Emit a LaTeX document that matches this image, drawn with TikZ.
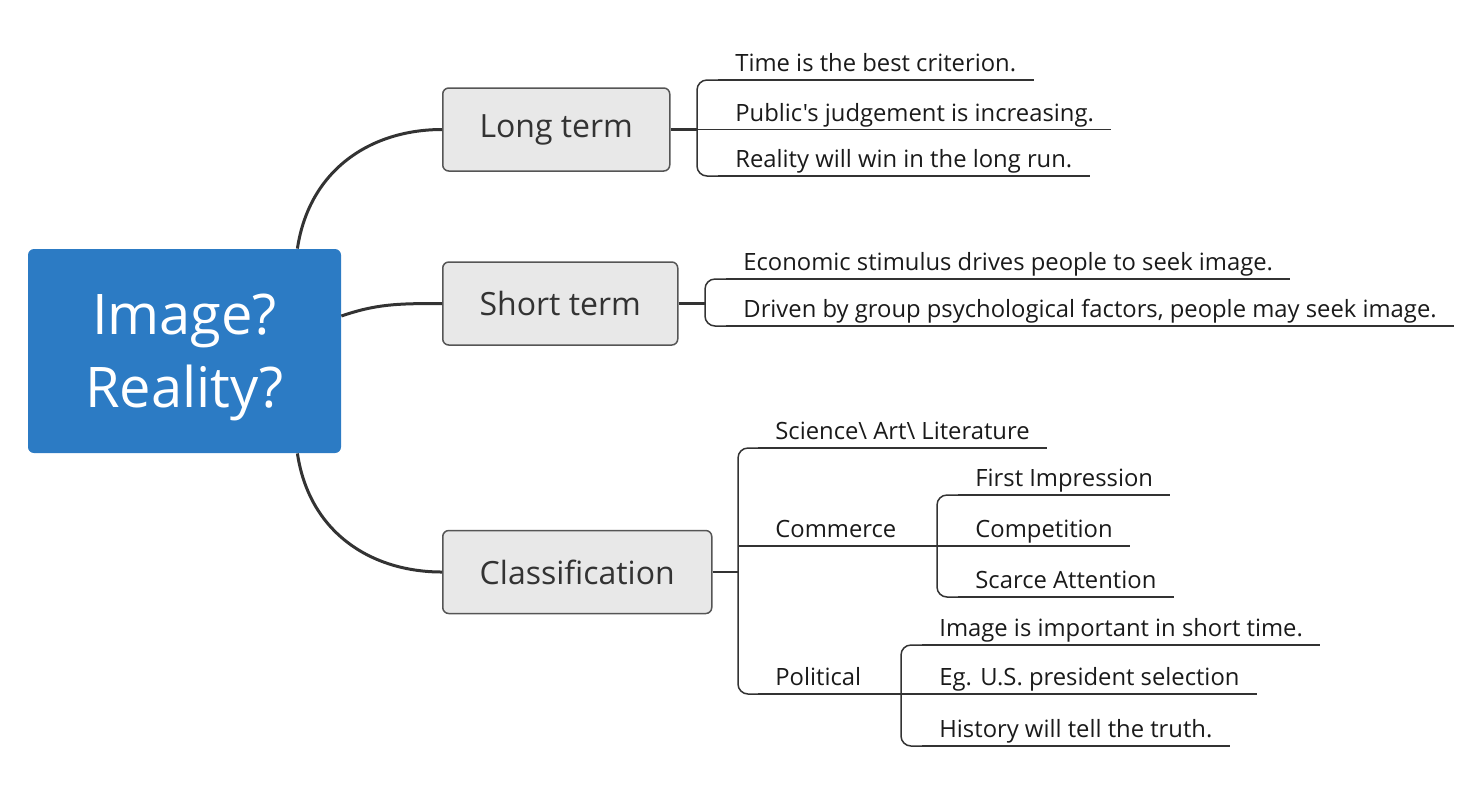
\documentclass[tikz,border=0pt]{standalone}
\usepackage{fontspec}
\setmainfont{Open Sans}[Ligatures=TeXOff]
\usetikzlibrary{calc}
\definecolor{cblue}{HTML}{2C7BC4}
\definecolor{cline}{HTML}{333333}
\definecolor{cfill}{HTML}{E8E8E8}
\definecolor{cborder}{HTML}{555555}
\definecolor{ctext}{HTML}{1A1A1A}
\begin{document}
\begin{tikzpicture}[x=0.5pt,y=-0.5pt,
  central/.style={fill=cblue, rounded corners=3pt, minimum width=156.5pt, minimum height=102pt, text=white, font=\fontsize{28}{36.5}\selectfont, align=center, inner sep=0pt, text depth=0pt},
  topic/.style={draw=cborder, line width=0.75pt, fill=cfill, rounded corners=3pt, minimum height=41.5pt, anchor=west, font=\fontsize{16}{19}\selectfont, text=cline, inner sep=0pt},
  leaf/.style={anchor=south west, inner xsep=8.5pt, inner ysep=3.9pt, text depth=0pt, font=\fontsize{11.9}{14}\selectfont, text=ctext},
  mainlink/.style={draw=cline, line width=1.5pt},
  trunk/.style={draw=cline, line width=1.2pt},
  twig/.style={draw=cline, line width=0.75pt, rounded corners=5pt},
]
\useasboundingbox (0,0) rectangle (1482,800);

% central topic
\node[central] (c) at (184.5,351) {Image?\\Reality?};
\coordinate (cTop) at ([xshift=-22pt]c.north east);
\coordinate (cBot) at ([xshift=-22pt]c.south east);
\coordinate (cMid) at ([yshift=17.5pt]c.east);

% main topics
\node[topic, minimum width=113.5pt] (lt) at (442,129.5) {Long term};
\node[topic, minimum width=117.5pt] (st) at (442,303.5) {Short term};
\node[topic, minimum width=134.5pt] (cls) at (442,572) {Classification};

\draw[mainlink] (cTop) .. controls +(12,-80) and +(-70,0) .. (lt.west);
\draw[mainlink] (cMid) .. controls +(35,-12) and +(-45,0) .. (st.west);
\draw[mainlink] (cBot) .. controls +(12,80) and +(-70,0) .. (cls.west);

% ---------- Long term ----------
\coordinate (bLT) at (697,129.5);
\node[leaf] (l1) at (718,80) {Time is the best criterion.};
\node[leaf] (l2) at (718,129.5) {Public's judgement is increasing.};
\node[leaf] (l3) at (718,176) {Reality will win in the long run.};
\foreach \n in {l1,l2,l3} \draw[twig] (\n.south west) -- (\n.south east);
\draw[trunk] (lt.east) -- (bLT);
\draw[twig] (l1.south west) -- (l1.south west -| bLT) -- (l3.south west -| bLT) -- (l3.south west);
\draw[twig] (bLT) -- (l2.south west);

% ---------- Short term ----------
\coordinate (bST) at (705,303.5);
\node[leaf] (s1) at (726,279) {Economic stimulus drives people to seek image.};
\node[leaf] (s2) at (726,326) {Driven by group psychological factors, people may seek image.};
\foreach \n in {s1,s2} \draw[twig] (\n.south west) -- (\n.south east);
\draw[trunk] (st.east) -- (bST);
\draw[twig] (s1.south west) -- (s1.south west -| bST) -- (s2.south west -| bST) -- (s2.south west);

% ---------- Classification ----------
\coordinate (bC) at (738,572);
\node[leaf] (sci) at (758,448) {Science\textbackslash{} Art\textbackslash{} Literature};
\node[leaf] (com) at (758,546) {Commerce};
\node[leaf] (pol) at (758,694) {Political};
\foreach \n in {sci,com,pol} \draw[twig] (\n.south west) -- (\n.south east);
\draw[trunk] (cls.east) -- (bC);
\draw[twig] (sci.south west) -- (sci.south west -| bC) -- (pol.south west -| bC) -- (pol.south west);
\draw[twig] (com.south west -| bC) -- (com.south west);

% Commerce children
\coordinate (bCo) at (937,546);
\node[leaf] (c1) at (958,495) {First Impression};
\node[leaf] (c2) at (958,546) {Competition};
\node[leaf] (c3) at (958,597) {Scarce Attention};
\foreach \n in {c1,c2,c3} \draw[twig] (\n.south west) -- (\n.south east);
\draw[trunk] (com.south east) -- (bCo);
\draw[twig] (c1.south west) -- (c1.south west -| bCo) -- (c3.south west -| bCo) -- (c3.south west);
\draw[twig] (bCo) -- (c2.south west);

% Political children
\coordinate (bPo) at (901,694);
\node[leaf] (p1) at (922,645) {Image is important in short time.};
\node[leaf] (p2) at (922,694) {Eg. U.S. president selection};
\node[leaf] (p3) at (922,746) {History will tell the truth.};
\foreach \n in {p1,p2,p3} \draw[twig] (\n.south west) -- (\n.south east);
\draw[trunk] (pol.south east) -- (bPo);
\draw[twig] (p1.south west) -- (p1.south west -| bPo) -- (p3.south west -| bPo) -- (p3.south west);
\draw[twig] (bPo) -- (p2.south west);
\end{tikzpicture}
\end{document}
